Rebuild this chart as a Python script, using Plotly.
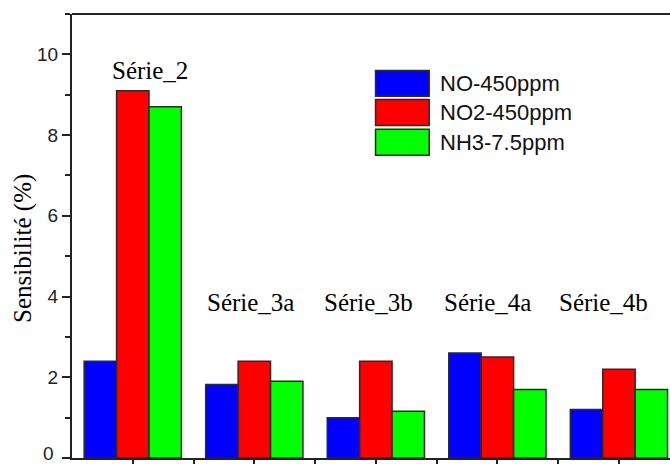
import plotly.graph_objects as go

categories = ["Série_2", "Série_3a", "Série_3b", "Série_4a", "Série_4b"]
series_names = ["NO-450ppm", "NO2-450ppm", "NH3-7.5ppm"]
no_450 = [2.4, 1.82, 1.0, 2.6, 1.2]
no2_450 = [9.1, 2.4, 2.4, 2.5, 2.2]
nh3_75 = [8.7, 1.9, 1.16, 1.7, 1.7]
y_ticks = [0, 2, 4, 6, 8, 10]
y_tick_text = ["", "2", "4", "6", "8", "10"]

series_values = [no_450, no2_450, nh3_75]
colors = ["#0000FF", "#FF0000", "#00FF00"]

x_idx = list(range(len(categories)))

fig = go.Figure()
for name, vals, col in zip(series_names, series_values, colors):
    fig.add_trace(go.Bar(
        x=x_idx, y=vals, name=name,
        marker=dict(color=col, line=dict(color="#2a2a2a", width=1.5)),
        showlegend=False,
    ))

# category labels above groups
label_dx = [0.14, -0.03, -0.06, -0.08, -0.13]
label_y = [9.6, 3.85, 3.85, 3.85, 3.85]
for i, cat in enumerate(categories):
    fig.add_annotation(x=x_idx[i] + label_dx[i], y=label_y[i], xref="x", yref="y",
                       text=cat, showarrow=False, xanchor="center", yanchor="middle",
                       font=dict(family="Liberation Serif", size=25, color="#000"))

# custom legend
box_x0, box_x1 = 0.5076, 0.5973
rows = [(0.8729, 0.8146), (0.8072, 0.7489), (0.7406, 0.6816)]
for (y1, y0), name, col in zip(rows, series_names, colors):
    fig.add_shape(type="rect", xref="paper", yref="paper", x0=box_x0, x1=box_x1,
                  y0=y0, y1=y1, fillcolor=col, line=dict(color="#2a2a2a", width=1.5))
    fig.add_annotation(xref="paper", yref="paper", x=0.6115, y=(y0 + y1) / 2,
                       text=name, showarrow=False, xanchor="left", yanchor="middle",
                       font=dict(family="Liberation Sans", size=22, color="#111"))

# top border line
fig.add_shape(type="line", xref="paper", yref="paper", x0=0, x1=1, y0=1, y1=1,
              line=dict(color="#222", width=2))

# y title
fig.add_annotation(xref="paper", yref="paper", x=-0.082, y=0.473, text="Sensibilité (%)",
                   textangle=-90, showarrow=False, xanchor="center", yanchor="middle",
                   font=dict(family="Liberation Serif", size=25, color="#000"))

# zero tick label (sits on the page's bottom edge, nudged up to stay visible)
fig.add_annotation(xref="paper", yref="y", x=-0.026, y=y_ticks[0], text=str(y_ticks[0]),
                   showarrow=False, xanchor="right", yanchor="middle", yshift=5,
                   font=dict(family="Liberation Sans", size=19, color="#222"))

fig.update_layout(
    width=670, height=464,
    margin=dict(l=72, r=0, t=14, b=4),
    paper_bgcolor="white", plot_bgcolor="white",
    barmode="group", bargap=0.2, bargroupgap=0,
    xaxis=dict(range=[-0.5, 4.42], tickvals=[v / 2 for v in range(0, 10)],
               showticklabels=False, ticks="outside", ticklen=6, tickwidth=1.5,
               tickcolor="#222", showline=True, linecolor="#222", linewidth=2,
               showgrid=False, zeroline=False),
    yaxis=dict(range=[0, 11], tickvals=y_ticks, ticktext=y_tick_text,
               ticks="outside", ticklen=8,
               tickwidth=1.5, tickcolor="#222", showline=True, linecolor="#222",
               linewidth=2, showgrid=False, zeroline=False,
               tickfont=dict(family="Liberation Sans", size=19, color="#222"),
               minor=dict(dtick=1, ticks="outside", ticklen=5, tickwidth=1.5,
                          tickcolor="#222", showgrid=False)),
)

fig.write_html("out.html", config={"displayModeBar": False},
               post_script="document.body.style.margin='0';document.body.style.overflow='hidden';")
